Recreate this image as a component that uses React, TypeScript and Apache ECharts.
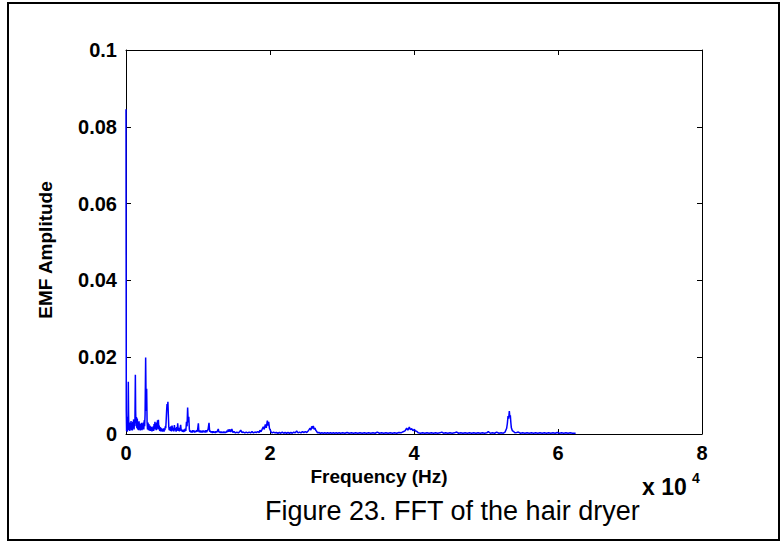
import React, { useEffect, useRef } from "react";
import * as echarts from "echarts";

// Spectrum samples: [frequency (Hz), EMF amplitude]
const lowBand: [number, number][] = [
  [0, 0.0846], [40, 0.006], [80, 0.0008], [130, 0.003], [180, 0.0006], [230, 0.0045],
  [280, 0.002], [320, 0.0136], [360, 0.005], [400, 0.001], [460, 0.0025], [520, 0.0008],
  [580, 0.003], [640, 0.0012], [700, 0.0034], [760, 0.001], [820, 0.0028], [880, 0.0009],
  [940, 0.0032], [1000, 0.0015], [1060, 0.0038], [1120, 0.0012], [1180, 0.0035], [1240, 0.003],
  [1300, 0.0154], [1340, 0.006], [1390, 0.002], [1450, 0.0044], [1510, 0.0015], [1570, 0.004],
  [1630, 0.0012], [1690, 0.003], [1750, 0.001], [1810, 0.0033], [1870, 0.0012], [1930, 0.0027],
  [1990, 0.0009], [2050, 0.0025], [2110, 0.0011], [2170, 0.0029], [2230, 0.001], [2290, 0.0024],
  [2350, 0.0013], [2410, 0.003], [2470, 0.0012], [2530, 0.0036], [2590, 0.002], [2650, 0.005],
  [2730, 0.0199], [2800, 0.006], [2870, 0.0118], [2930, 0.003], [2990, 0.0012], [3060, 0.003],
  [3120, 0.001], [3180, 0.0026], [3240, 0.0009], [3300, 0.0022], [3360, 0.0008], [3420, 0.002],
  [3480, 0.001], [3540, 0.0018], [3600, 0.0007], [3660, 0.0016], [3720, 0.0009], [3780, 0.002],
  [3840, 0.0008], [3900, 0.0026], [3960, 0.0012], [4020, 0.0032], [4080, 0.0014], [4140, 0.0024],
  [4200, 0.001], [4260, 0.003], [4320, 0.0012], [4380, 0.0036], [4440, 0.0015], [4500, 0.0037],
  [4560, 0.0012], [4620, 0.0022], [4680, 0.0008], [4740, 0.0018], [4800, 0.0007], [4860, 0.0016],
  [4920, 0.0008], [4980, 0.0014], [5040, 0.0006], [5100, 0.0012], [5160, 0.0007], [5220, 0.0015],
  [5280, 0.0006], [5340, 0.0013], [5400, 0.001], [5460, 0.002], [5520, 0.0015], [5580, 0.0035],
  [5640, 0.006], [5700, 0.0078], [5760, 0.0065], [5820, 0.0084], [5880, 0.005], [5940, 0.002],
  [6000, 0.001],
];

const midBand: [number, number][] = [
  [6080, 0.0018], [6160, 0.0008], [6240, 0.002], [6320, 0.0007], [6400, 0.0022], [6480, 0.0009],
  [6560, 0.0016], [6640, 0.0007], [6720, 0.0023], [6800, 0.001], [6880, 0.0015], [6960, 0.0006],
  [7040, 0.0018], [7120, 0.0009], [7180, 0.0028], [7260, 0.0008], [7340, 0.0016], [7420, 0.0007],
  [7500, 0.0013], [7590, 0.0024], [7670, 0.0008], [7750, 0.0012], [7830, 0.0006], [7910, 0.001],
  [7990, 0.0005], [8070, 0.0012], [8150, 0.0006], [8230, 0.0014], [8310, 0.0008], [8400, 0.0032],
  [8480, 0.002], [8560, 0.0069], [8640, 0.003], [8720, 0.0045], [8800, 0.0012], [8880, 0.0006],
  [8960, 0.0009], [9040, 0.0004], [9120, 0.0008], [9200, 0.0004], [9280, 0.001], [9360, 0.0005],
  [9440, 0.0009], [9520, 0.0004], [9600, 0.0008], [9700, 0.0005], [9800, 0.001], [9900, 0.0006],
  [9980, 0.0016], [10050, 0.0028], [10120, 0.0007], [10200, 0.0005], [10300, 0.0009], [10400, 0.0004],
  [10500, 0.0008], [10600, 0.0004], [10700, 0.0009], [10800, 0.0005], [10900, 0.0008], [11000, 0.0004],
  [11100, 0.001], [11200, 0.0005], [11300, 0.0009], [11400, 0.0012], [11530, 0.0029], [11620, 0.0006],
  [11700, 0.0008], [11800, 0.0004], [11900, 0.0007], [12000, 0.0003], [12100, 0.0007], [12200, 0.0004],
  [12300, 0.0006], [12400, 0.0003], [12500, 0.0007], [12600, 0.0004], [12700, 0.0008], [12820, 0.0013],
  [12900, 0.0005], [13000, 0.0006], [13100, 0.0003], [13200, 0.0006], [13300, 0.0003], [13400, 0.0005],
  [13500, 0.0003], [13600, 0.0006], [13700, 0.0003], [13800, 0.0005], [13900, 0.0004], [14000, 0.0008],
  [14100, 0.0005], [14200, 0.0012], [14300, 0.0006], [14440, 0.0012], [14550, 0.0005], [14700, 0.0013],
  [14850, 0.0004],
];

const upperBand: [number, number][] = [
  [15000, 0.0006], [15200, 0.0003], [15400, 0.0005], [15600, 0.0003], [15800, 0.0006], [15930, 0.001],
  [16100, 0.0004], [16300, 0.0005], [16500, 0.0003], [16700, 0.0005], [16900, 0.0003], [17100, 0.0005],
  [17300, 0.0003], [17500, 0.0006], [17700, 0.0003], [17900, 0.0005], [18100, 0.0004], [18300, 0.0006],
  [18500, 0.0004], [18600, 0.001], [18750, 0.0006], [18900, 0.0012], [19070, 0.0019], [19200, 0.0012],
  [19350, 0.0025], [19480, 0.0016], [19630, 0.0035], [19720, 0.0022], [19820, 0.0032], [19920, 0.0015],
  [20000, 0.0012], [20150, 0.0005], [20300, 0.0003], [20500, 0.0005], [20700, 0.0003], [20900, 0.0004],
  [21100, 0.0002], [21300, 0.0004], [21500, 0.0002], [21700, 0.0005], [21900, 0.0002], [22100, 0.0004],
  [22300, 0.0002], [22500, 0.0004], [22700, 0.0002], [22900, 0.0004], [23100, 0.0002], [23300, 0.0005],
  [23500, 0.0003], [23700, 0.0008], [23900, 0.0003], [24100, 0.0005], [24300, 0.0003], [24500, 0.0006],
  [24700, 0.0004], [24900, 0.0006], [25100, 0.0004], [25300, 0.0008], [25450, 0.0012], [25560, 0.0015],
  [25680, 0.001], [25790, 0.002], [25900, 0.0014], [26020, 0.0021], [26130, 0.0012], [26250, 0.0016],
  [26370, 0.0009], [26480, 0.0007], [26600, 0.0003], [26800, 0.0004], [27000, 0.0002], [27200, 0.0003],
  [27400, 0.0002], [27600, 0.0003], [27800, 0.0002], [28000, 0.0003], [28200, 0.0002], [28400, 0.0003],
  [28600, 0.0002], [28800, 0.0003], [29000, 0.0002], [29200, 0.0003], [29400, 0.0002], [29600, 0.0003],
  [29800, 0.0002],
];

const highBand: [number, number][] = [
  [30100, 0.0003], [30400, 0.0002], [30700, 0.0004], [31000, 0.0002], [31300, 0.0003], [31600, 0.0002],
  [31900, 0.0003], [32200, 0.0002], [32500, 0.0003], [32800, 0.0002], [33100, 0.0003], [33400, 0.0002],
  [33700, 0.0003], [34000, 0.0002], [34300, 0.0003], [34600, 0.0002], [34900, 0.0005], [35200, 0.0002],
  [35500, 0.0003], [35800, 0.0002], [36100, 0.0003], [36400, 0.0002], [36700, 0.0003], [37000, 0.0002],
  [37300, 0.0003], [37600, 0.0002], [37900, 0.0004], [38200, 0.0003], [38500, 0.0006], [38750, 0.0008],
  [38980, 0.0015], [39150, 0.001], [39350, 0.0018], [39500, 0.0011], [39680, 0.0014], [39850, 0.0009],
  [40050, 0.0012], [40200, 0.0008], [40370, 0.0007], [40600, 0.0003], [40900, 0.0002], [41200, 0.0003],
  [41500, 0.0002], [41800, 0.0003], [42100, 0.0002], [42400, 0.0003], [42700, 0.0002], [43000, 0.0003],
  [43300, 0.0002], [43600, 0.0003], [43850, 0.0005], [44100, 0.0002], [44400, 0.0003], [44700, 0.0002],
  [45000, 0.0003], [45300, 0.0002], [45600, 0.0003], [45930, 0.0005], [46200, 0.0002], [46500, 0.0003],
  [46800, 0.0002], [47100, 0.0003], [47400, 0.0002], [47700, 0.0003], [48000, 0.0002], [48300, 0.0003],
  [48600, 0.0002], [48900, 0.0003], [49200, 0.0002], [49500, 0.0003], [49800, 0.0002], [50100, 0.0003],
  [50320, 0.0006], [50600, 0.0002], [50900, 0.0003], [51200, 0.0002], [51480, 0.0005], [51800, 0.0002],
  [52100, 0.0003], [52400, 0.0002], [52650, 0.0005], [52870, 0.0015], [52970, 0.0028], [53060, 0.0047],
  [53150, 0.004], [53240, 0.006], [53310, 0.0045], [53380, 0.0049], [53450, 0.003], [53520, 0.0016],
  [53650, 0.0009], [53800, 0.0007], [54000, 0.0003], [54250, 0.0004], [54490, 0.0005], [54800, 0.0002],
  [55100, 0.0003], [55400, 0.0002], [55700, 0.0003], [56000, 0.0002], [56300, 0.0003], [56600, 0.0002],
  [56900, 0.0003], [57200, 0.0002], [57500, 0.0003], [57800, 0.0002], [58100, 0.0003], [58400, 0.0002],
  [58700, 0.0003], [59000, 0.0002], [59300, 0.0003], [59600, 0.0002], [59900, 0.0004], [60200, 0.0002],
  [60500, 0.0003], [60800, 0.0002], [61100, 0.0003], [61400, 0.0002], [61700, 0.0003], [62000, 0.0002],
  [62450, 0.0002],
];

const xTickLabels = ["0", "2", "4", "6", "8"];
const yTickLabels = ["0", "0.02", "0.04", "0.06", "0.08", "0.1"];

const FONT = '"Liberation Sans", Arial, sans-serif';

export default function App() {
  const ref = useRef<HTMLDivElement>(null);

  useEffect(() => {
    if (!ref.current) return;
    const chart = echarts.init(ref.current, undefined, { renderer: "svg" });
    const data = [...lowBand, ...midBand, ...upperBand, ...highBand];
    const tickStyle = { inside: true, length: 5, lineStyle: { color: "#000", width: 1 } };
    const axisLine = { show: true, onZero: false, lineStyle: { color: "#000", width: 1 } };
    chart.setOption({
      animation: false,
      backgroundColor: "#fff",
      grid: { left: 126, top: 50, width: 576, height: 384, containLabel: false },
      xAxis: [
        {
          type: "value",
          min: 0,
          max: 80000,
          interval: 20000,
          axisLine,
          axisTick: tickStyle,
          splitLine: { show: false },
          axisLabel: {
            color: "#000",
            fontSize: 20,
            lineHeight: 16,
            fontWeight: "bold",
            fontFamily: FONT,
            margin: 11,
            formatter: (v: number) => xTickLabels[Math.round(v / 20000)] ?? "",
          },
        },
        {
          type: "value",
          position: "top",
          min: 0,
          max: 80000,
          interval: 20000,
          axisLine,
          axisTick: tickStyle,
          splitLine: { show: false },
          axisLabel: { show: false },
        },
      ],
      yAxis: [
        {
          type: "value",
          min: 0,
          max: 0.1,
          interval: 0.02,
          axisLine,
          axisTick: tickStyle,
          splitLine: { show: false },
          axisLabel: {
            color: "#000",
            fontSize: 20,
            fontWeight: "bold",
            fontFamily: FONT,
            margin: 9,
            formatter: (v: number) => yTickLabels[Math.round(v / 0.02)] ?? "",
          },
        },
        {
          type: "value",
          position: "right",
          min: 0,
          max: 0.1,
          interval: 0.02,
          axisLine,
          axisTick: tickStyle,
          splitLine: { show: false },
          axisLabel: { show: false },
        },
      ],
      series: [
        {
          type: "line",
          xAxisIndex: 0,
          yAxisIndex: 0,
          data,
          showSymbol: false,
          symbol: "none",
          lineStyle: { color: "#0000ff", width: 1.5 },
          z: 5,
        },
      ],
      graphic: [
        {
          type: "rect",
          shape: { x: 8, y: 3, width: 771, height: 537 },
          style: { fill: "none", stroke: "#000", lineWidth: 2 },
          silent: true,
        },
        {
          type: "text",
          x: 379,
          y: 476,
          style: {
            text: "Frequency (Hz)",
            fontSize: 19,
            lineHeight: 15,
            fontWeight: "bold",
            fontFamily: FONT,
            fill: "#000",
            textAlign: "center",
            textVerticalAlign: "middle",
          },
        },
        {
          type: "text",
          x: 45,
          y: 250,
          rotation: Math.PI / 2,
          style: {
            text: "EMF Amplitude",
            fontSize: 19,
            fontWeight: "bold",
            fontFamily: FONT,
            fill: "#000",
            textAlign: "center",
            textVerticalAlign: "middle",
          },
        },
        {
          type: "text",
          x: 642,
          y: 487,
          style: {
            text: "x 10",
            fontSize: 23,
            fontWeight: "bold",
            fontFamily: FONT,
            fill: "#000",
            textAlign: "left",
            textVerticalAlign: "middle",
          },
        },
        {
          type: "text",
          x: 692,
          y: 478,
          style: {
            text: "4",
            fontSize: 14,
            fontWeight: "bold",
            fontFamily: FONT,
            fill: "#000",
            textAlign: "left",
            textVerticalAlign: "middle",
          },
        },
        {
          type: "text",
          x: 265,
          y: 511,
          style: {
            text: "Figure 23. FFT of the hair dryer",
            fontSize: 27,
            fontFamily: FONT,
            fill: "#000",
            textAlign: "left",
            textVerticalAlign: "middle",
          },
        },
      ],
    });
    return () => chart.dispose();
  }, []);

  return (
    <div
      ref={ref}
      style={{ position: "fixed", left: 0, top: 0, width: 781, height: 542, background: "#fff" }}
    />
  );
}
